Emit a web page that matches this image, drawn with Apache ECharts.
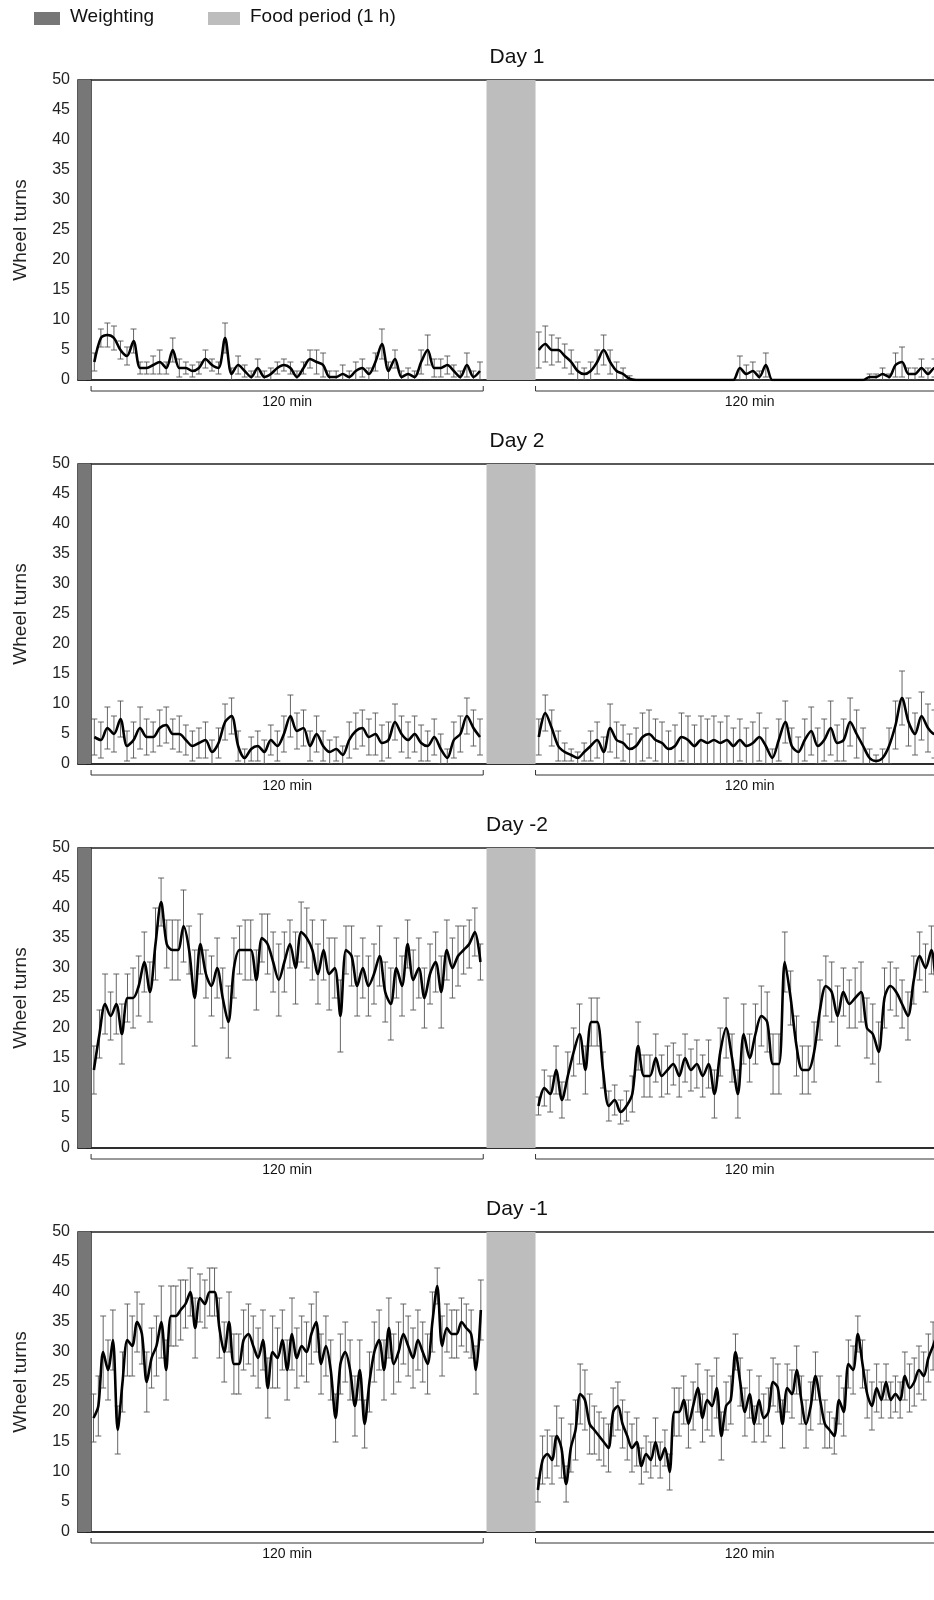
<!DOCTYPE html>
<html>
<head>
<meta charset="utf-8">
<script src="https://cdn.jsdelivr.net/npm/echarts@6/dist/echarts.min.js"></script>
<style>
  html, body { margin: 0; padding: 0; background: #fff; overflow: hidden; }
  #chart { width: 980px; height: 1600px; }
</style>
</head>
<body>
<div id="chart"></div>
<script>
// Panel titles
const days = ['Day 1', 'Day 2', 'Day -2', 'Day -1'];
const yTicks = [0, 5, 10, 15, 20, 25, 30, 35, 40, 45, 50];

// Time layout (min): weighting, first 120 min, food period, second block
const weighting = [-4, 0];
const block1 = [0, 120];
const food = [121, 136];
const block2 = [136, 267];
const bracketLabel = '120 min';

// Mean wheel turns, block before food
const day1A = [3,7,7.5,7,5,4,6.5,2,2,2.5, 3,2,5,2,2,1.5,2,3.5,2.5,2, 7,1,2.5,1.5,0.5,2,0.5,1,2,2.5,
  2,0.5,2,3.5,3,2.5,0.5,0.5,1,0.5, 1.5,2,1,3,6,1.5,3.5,0.5,1,0.5, 3,5,2,2,2.5,1.5,0.5,2.5,0.5,1.5];
const day1Asd = [1.5,1.5,2,2,1.5,1.5,2,1,1,1.5, 2,1,2,1.5,1,1,1,1.5,1,1, 2.5,1,1.5,1,1,1.5,1,1,1,1,
  1,1,1,1.5,2,2,1,1,1.5,1, 1.5,1.5,1,1.5,2.5,1.5,1.5,1,1,1, 2,2.5,1.5,1.5,1.5,1,1,2,1,1.5];
const day1B = [5,6,5,5,4,3,1.5,1,1.5,3, 5,3,1.5,1,0.2,0,0,0,0,0, 0,0,0,0,0,0,0,0,0,0,
  0,2,1,1.5,0.5,2.5,0,0,0,0, 0,0,0,0,0,0,0,0,0,0, 0,0.5,0.5,1,0.5,2.5,3,1,1,2, 1,2,1,1,2,1];
const day1Bsd = [3,3,2.5,2,2,2,1.5,1,1.5,2, 2.5,2,1.5,1,0.5,0,0,0,0,0, 0,0,0,0,0,0,0,0,0,0,
  0,2,1.5,1.5,1,2,0,0,0,0, 0,0,0,0,0,0,0,0,0,0, 0,0.5,0.5,1,0.5,2,2.5,1,1,1.5, 1,1.5,1,1,1.5,1];

const day2A = [4.5,4,6,5,7.5,3,4,6,4.5,4.5, 6,6.5,5,5,4,3,3.5,4,2,3.5, 7,8,3,1,2.5,3,2,4,3,5,
  8,5.5,6,3,5,3,2,2.5,1.5,4, 5.5,6,4.5,5,3.5,4,7,5,4,5, 3.5,3,4.5,2.5,1,4,5,8,6,4.5];
const day2Asd = [3,3,3.5,3,3,2.5,3,3.5,3,2.5, 3,3,2.5,3,2.5,2.5,2.5,3,2,2.5, 3,3,2.5,1.5,2,2.5,2,2.5,2.5,3,
  3.5,3,3,2.5,3,2.5,2,2,1.5,3, 3,3,3,3.5,3,3,3,3,3,3, 3,2.5,3,2.5,1.5,3,3,3,3,3];
const day2B = [4.5,8.5,6,3,2,1.5,1,2,3,4, 2,6,4,3.5,2.5,3,4.5,5,4,3.5, 2.5,3,4.5,4,3,4,3.5,4,3.5,4,
  3,4,3,3.5,4.5,3,1,4,7,3, 2,4,5.5,3,4,6,3.5,4,7,5, 3,1,0.5,1,3,6.5,11,7,5,8, 6,5,6,5,6,5];
const day2Bsd = [3,3,3,2.5,1.5,1,1,1.5,2.5,3, 2.5,4,3,3,2.5,3,4,4,3.5,3.5, 3,3.5,4,4,3.5,4,4,4,3.5,4,
  3,3.5,3,3.5,4,3,1.5,3.5,3.5,3, 2.5,3.5,4,3,3.5,4.5,3,3.5,4,4, 3,1.5,1,1.5,3,4,4.5,4,3.5,4, 4,4,4,3.5,4,3.5];

const dayM2A = [13,19,24,22,24,19,25,25,27,31, 26,34,41,34,33,33,37,33,25,34, 29,27,30,25,21,30,33,33,33,28,
  35,34,31,28,31,34,30,36,35,33, 29,33,29,30,22,33,32,27,30,27, 29,32,26,24,30,27,34,28,30,25,
  29,31,26,33,30,32,33,34,36,31];
const dayM2Asd = [4,4,5,4,5,5,4,5,5,5, 5,6,4,4,5,5,6,4,8,5, 4,5,5,5,6,5,4,5,5,5, 4,5,5,6,5,4,6,5,5,5,
  5,5,6,5,6,4,5,5,5,5, 5,5,5,6,5,5,4,5,5,5, 5,5,6,5,5,5,4,4,4,3];
const dayM2B = [7,10,9,13,8,12,16,19,13,21, 21,13,7,8,6,7,9,17,12,12, 15,12,13,14,12,15,13,14,12,14,
  9,16,20,15,9,19,15,19,22,21, 14,14,31,25,17,13,13,16,23,27, 26,22,26,24,25,26,20,19,16,25,
  27,26,24,22,28,32,30,33,27,31, 32,30,27];
const dayM2Bsd = [1.5,3,3,4,3,4,4,5,4,4, 4,3,2.5,2.5,2,2.5,3,4,3.5,3.5, 4,3.5,4,3.5,3.5,4,3.5,4,3.5,4,
  4,4,5,4,4,5,4,5,5,5, 5,5,5,4.5,5,4,4,5,5,5, 5,5,4,4,5,5,5,5,5,5, 4,4,4,4,4,4,4,4,4,4, 4,4,4];

const dayM1A = [19,21,30,27,32,17,25,32,31,35, 33,25,29,31,35,27,36,36,37,38, 40,34,39,38,40,40,34,30,35,28,
  28,32,33,31,29,32,24,30,29,32, 27,33,29,31,30,33,35,28,31,27, 19,28,30,27,21,27,18,25,30,32,
  27,34,28,30,33,31,29,32,30,28, 35,41,31,34,33,33,35,34,33,27, 37];
const dayM1Asd = [4,5,6,5,5,4,5,6,5,5, 5,5,5,5,6,5,5,5,5,4, 4,5,4,4,4,4,5,5,5,5, 5,5,5,5,5,5,5,6,5,5,
  5,6,5,5,5,5,5,5,5,5, 4,5,5,5,5,5,4,5,5,5, 5,5,5,5,5,5,5,5,5,5, 5,3,5,4,4,4,4,4,4,4, 5];
const dayM1B = [7,12,13,12,16,14,8,14,17,23, 22,18,17,16,15,14,20,21,18,16, 14,15,11,13,12,15,12,14,10,20,
  20,22,18,21,24,19,22,21,24,16, 21,22,30,25,20,23,18,22,19,20, 25,24,18,24,23,27,22,18,21,26,
  22,18,17,16,22,20,28,27,33,28, 23,21,24,22,25,22,23,22,26,24, 25,27,26,29,31,33,30,27,24,26, 28];
const dayM1Bsd = [2,4,4,4,5,5,3,4,5,5, 5,5,4,4,4,4,4,4,4,4, 4,4,3,3,3,4,3,3,3,4, 4,4,4,4,4,4,5,5,5,4,
  4,4,3,4,4,4,3,4,4,4, 4,4,4,4,4,4,4,4,4,4, 4,4,3,3,4,4,4,4,3,4, 4,4,4,3,3,3,3,3,4,4, 4,4,4,4,4,3,4,4,4,4, 4];

const panels = [
  [day1A, day1Asd, day1B, day1Bsd],
  [day2A, day2Asd, day2B, day2Bsd],
  [dayM2A, dayM2Asd, dayM2B, dayM2Bsd],
  [dayM1A, dayM1Asd, dayM1B, dayM1Bsd]
];

const tops = [80, 464, 848, 1232];
const H = 300;

function place(vals, range) {
  const step = (range[1] - range[0]) / vals.length;
  return vals.map((v, i) => range[0] + (i + 0.5) * step);
}

const chart = echarts.init(document.getElementById('chart'));
const grids = [], xAxes = [], yAxes = [], series = [], titles = [];

panels.forEach((p, k) => {
  const [a, asd, b, bsd] = p;
  const xa = place(a, block1), xb = place(b, block2);
  grids.push({ left: 78, right: 0, top: tops[k], height: H, show: true,
    borderColor: '#222', borderWidth: 1.5 });
  xAxes.push({ type: 'value', gridIndex: k, min: weighting[0], max: 272,
    axisLine: { show: true, onZero: false, lineStyle: { color: '#222', width: 1.5 } },
    axisTick: { show: false }, axisLabel: { show: false }, splitLine: { show: false } });
  yAxes.push({ type: 'value', gridIndex: k, min: 0, max: 50, interval: 5,
    name: 'Wheel turns', nameLocation: 'middle', nameGap: 48, nameRotate: 90,
    nameTextStyle: { fontSize: 19, color: '#222', fontFamily: 'Liberation Sans' },
    axisLine: { show: true, lineStyle: { color: '#222', width: 1.5 } },
    axisTick: { show: true, length: 5, lineStyle: { color: '#222' } },
    axisLabel: { fontSize: 16, color: '#222', margin: 8, fontFamily: 'Liberation Sans' },
    splitLine: { show: false } });
  titles.push({ text: days[k], left: 512, top: tops[k] - 38, textAlign: 'center',
    textStyle: { fontSize: 21, fontWeight: 'normal', color: '#111', fontFamily: 'Liberation Sans' } });

  const lineData = xa.map((x, i) => [x, a[i]]).concat([['-', '-']], xb.map((x, i) => [x, b[i]]));
  const errData = xa.map((x, i) => [x, Math.max(0, a[i] - asd[i]), a[i] + asd[i]])
    .concat(xb.map((x, i) => [x, Math.max(0, b[i] - bsd[i]), b[i] + bsd[i]]));

  series.push({
    type: 'custom', xAxisIndex: k, yAxisIndex: k, data: errData, clip: true, silent: true, z: 3,
    renderItem: (params, api) => {
      const top = api.coord([api.value(0), api.value(2)]);
      const bot = api.coord([api.value(0), api.value(1)]);
      const st = { stroke: '#555', lineWidth: 0.9 };
      return { type: 'group', children: [
        { type: 'line', shape: { x1: top[0], y1: top[1], x2: bot[0], y2: bot[1] }, style: st },
        { type: 'line', shape: { x1: top[0] - 3, y1: top[1], x2: top[0] + 3, y2: top[1] }, style: st },
        { type: 'line', shape: { x1: bot[0] - 3, y1: bot[1], x2: bot[0] + 3, y2: bot[1] }, style: st }
      ] };
    }
  });
  series.push({
    type: 'line', xAxisIndex: k, yAxisIndex: k, data: lineData, smooth: 0.3, showSymbol: false,
    connectNulls: false, lineStyle: { color: '#000', width: 2.6 }, z: 4, silent: true,
    markArea: { silent: true, data: [
      [{ xAxis: weighting[0], itemStyle: { color: '#777', opacity: 1 } }, { xAxis: weighting[1] }],
      [{ xAxis: food[0], itemStyle: { color: '#bdbdbd', opacity: 1 } }, { xAxis: food[1] }]
    ] }
  });
});

chart.setOption({
  animation: false,
  title: titles,
  grid: grids, xAxis: xAxes, yAxis: yAxes, series: series
});

// legend swatches, brackets and "120 min" labels
const g = [
  { type: 'rect', shape: { x: 34, y: 12, width: 26, height: 13 }, style: { fill: '#777' } },
  { type: 'text', x: 70, y: 7, style: { text: 'Weighting', fontSize: 19, fill: '#111', fontFamily: 'Liberation Sans' } },
  { type: 'rect', shape: { x: 208, y: 12, width: 32, height: 13 }, style: { fill: '#bdbdbd' } },
  { type: 'text', x: 250, y: 7, style: { text: 'Food period (1 h)', fontSize: 19, fill: '#111', fontFamily: 'Liberation Sans' } }
];
tops.forEach((t, k) => {
  [block1, block2].forEach(r => {
    const p0 = chart.convertToPixel({ gridIndex: k }, [r[0], 0]);
    const p1 = chart.convertToPixel({ gridIndex: k }, [r[1], 0]);
    const y = p0[1] + 11;
    g.push({ type: 'polyline', shape: { points: [[p0[0], y - 5], [p0[0], y], [p1[0], y], [p1[0], y - 5]] },
      style: { stroke: '#333', lineWidth: 1, fill: null } });
    g.push({ type: 'text', x: (p0[0] + p1[0]) / 2, y: y + 4,
      style: { text: bracketLabel, fontSize: 14, fill: '#111', align: 'center', fontFamily: 'Liberation Sans' } });
  });
});
chart.setOption({ graphic: g });
</script>
</body>
</html>
